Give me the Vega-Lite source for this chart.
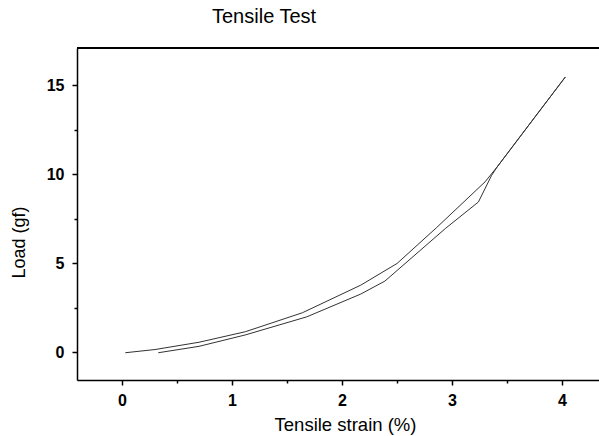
{
  "$schema": "https://vega.github.io/schema/vega-lite/v6.json",
  "width": 522,
  "height": 332,
  "autosize": {"type": "none"},
  "padding": {"left": 77, "top": 48, "right": 0, "bottom": 56},
  "background": "white",
  "config": {
    "view": {"stroke": null},
    "font": "Liberation Sans",
    "axis": {"grid": false, "domainColor": "black", "domainWidth": 1.5, "tickColor": "black", "tickWidth": 1.5, "labelColor": "black", "titleColor": "black", "labelFont": "Liberation Sans", "titleFont": "Liberation Sans"}
  },
  "title": {"text": "Tensile Test", "anchor": "start", "frame": "group", "dx": 135, "offset": 4, "baseline": "alphabetic", "fontSize": 20, "fontWeight": "normal", "font": "Liberation Sans", "color": "black"},
  "data": {"values": [
    {"series": "A", "strain": 0.03, "load": -0.04},
    {"series": "A", "strain": 0.30, "load": 0.14},
    {"series": "A", "strain": 0.70, "load": 0.55},
    {"series": "A", "strain": 1.12, "load": 1.14},
    {"series": "A", "strain": 1.64, "load": 2.21},
    {"series": "A", "strain": 2.17, "load": 3.76},
    {"series": "A", "strain": 2.50, "load": 4.98},
    {"series": "A", "strain": 2.86, "load": 7.0},
    {"series": "A", "strain": 3.30, "load": 9.57},
    {"series": "A", "strain": 3.41, "load": 10.41},
    {"series": "A", "strain": 3.70, "load": 12.78},
    {"series": "A", "strain": 4.03, "load": 15.47},
    {"series": "B", "strain": 0.33, "load": -0.04},
    {"series": "B", "strain": 0.70, "load": 0.32},
    {"series": "B", "strain": 1.12, "load": 0.96},
    {"series": "B", "strain": 1.68, "load": 1.98},
    {"series": "B", "strain": 2.17, "load": 3.26},
    {"series": "B", "strain": 2.39, "load": 3.99},
    {"series": "B", "strain": 2.94, "load": 6.95},
    {"series": "B", "strain": 3.24, "load": 8.44},
    {"series": "B", "strain": 3.36, "load": 9.94},
    {"series": "B", "strain": 3.41, "load": 10.41},
    {"series": "B", "strain": 3.70, "load": 12.78},
    {"series": "B", "strain": 4.03, "load": 15.47}
  ]},
  "layer": [
    {
      "mark": {"type": "line", "color": "#333333", "strokeWidth": 1},
      "encoding": {
        "x": {"field": "strain", "type": "quantitative", "scale": {"domain": [-0.409, 4.336], "nice": false, "zero": false},
          "axis": {"values": [0, 0.5, 1, 1.5, 2, 2.5, 3, 3.5, 4], "labelExpr": "datum.value % 1 === 0 ? format(datum.value, 'd') : ''", "tickSize": {"condition": {"test": "datum.value % 1 !== 0", "value": 3}, "value": 5}, "labelFontSize": 16, "labelFontWeight": "bold", "labelPadding": 7, "title": "Tensile strain (%)", "titleFontSize": 18.5, "titleFontWeight": "normal", "titlePadding": 7, "titleX": 268, "titleAlign": "center"}},
        "y": {"field": "load", "type": "quantitative", "scale": {"domain": [-1.573, 17.1], "nice": false, "zero": false},
          "axis": {"values": [0, 2.5, 5, 7.5, 10, 12.5, 15], "labelExpr": "datum.value % 5 === 0 ? format(datum.value, 'd') : ''", "tickSize": {"condition": {"test": "datum.value % 5 !== 0", "value": 3}, "value": 5}, "labelFontSize": 16, "labelFontWeight": "bold", "labelPadding": 8, "title": "Load (gf)", "titleFontSize": 18, "titleFontWeight": "normal", "titleX": -53, "titleY": 194, "titleBaseline": "alphabetic", "titleAlign": "center", "titleAngle": 270}},
        "detail": {"field": "series", "type": "nominal"}
      }
    },
    {
      "mark": {"type": "rule", "color": "black", "strokeWidth": 1.5},
      "encoding": {"y": {"datum": 17.1}}
    }
  ]
}
